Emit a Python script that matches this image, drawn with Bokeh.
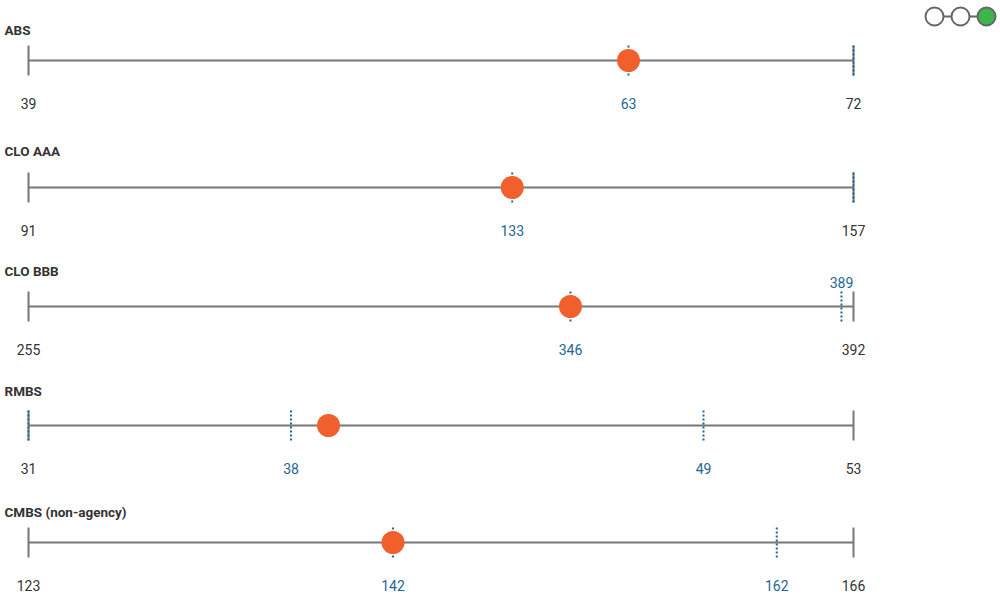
from bokeh.plotting import figure
from bokeh.models import Range1d
from bokeh.layouts import column
from bokeh.core.properties import value
from bokeh.embed import file_html
from bokeh.resources import INLINE

# ---------------- data ----------------
categories = ["ABS", "CLO AAA", "CLO BBB", "RMBS", "CMBS (non-agency)"]
mins = [39, 91, 255, 31, 123]
maxs = [72, 157, 392, 53, 166]
# current value (orange dot), position
current = [63, 129.7, 345, 39.0, 142]
marker_pos = [[63, 72], [129.7, 157], [345, 390], [31, 38, 49], [142, 162]]
marker_labels = [["63", ""], ["133", ""], ["346", "389"], ["", "38", "49"], ["142", "162"]]

# ---------------- style / layout ----------------
W = 1000
X0, X1 = 28, 853          # x of min and max
bounds = [0, 125, 248, 368, 486, 612]   # y boundaries of each row figure
centers = [60, 187, 306, 425, 542]
title_y = [29, 150, 270, 390, 511]
label_dy = 43
TXT = "#333333"
GRAY = "#777777"
BLUE = "#1d6796"
ORANGE = "#f15f2d"
FONT = "Roboto"

figs = []
for i, cat in enumerate(categories):
    top, bot = bounds[i], bounds[i + 1]
    s = (X1 - X0) / (maxs[i] - mins[i])
    start = mins[i] - X0 / s
    end = start + W / s
    p = figure(width=W, height=bot - top, output_backend="svg", toolbar_location=None,
               x_range=Range1d(start, end), y_range=Range1d(bot, top),
               min_border=0, min_border_left=0, min_border_right=0,
               min_border_top=0, min_border_bottom=0)
    p.extra_x_ranges = {"px": Range1d(0, W)}
    p.axis.visible = False
    p.grid.visible = False
    p.outline_line_color = None
    p.background_fill_color = None
    p.border_fill_color = None

    c = centers[i]
    # title
    p.text(x=[4], y=[title_y[i]], text=[cat], x_range_name="px",
           text_font=value(FONT), text_font_size="13.5px", text_font_style="bold",
           text_color=TXT, text_align="left", text_baseline="middle")
    # range line
    p.segment(x0=[mins[i]], y0=[c], x1=[maxs[i]], y1=[c], line_color=GRAY, line_width=2)
    # end ticks
    p.segment(x0=[mins[i], maxs[i]], y0=[c - 15, c - 15], x1=[mins[i], maxs[i]], y1=[c + 15, c + 15],
              line_color=GRAY, line_width=2)
    # dotted markers
    mp = marker_pos[i]
    p.segment(x0=mp, y0=[c - 15] * len(mp), x1=mp, y1=[c + 15] * len(mp),
              line_color=BLUE, line_width=2, line_dash="2 2")
    # current dot
    p.scatter(x=[current[i]], y=[c], size=23, fill_color=ORANGE, line_color=None)
    # min / max labels
    p.text(x=[mins[i], maxs[i]], y=[c + label_dy] * 2, text=[str(mins[i]), str(maxs[i])],
           text_font=value(FONT), text_font_size="14px", text_color=TXT,
           text_align="center", text_baseline="middle")
    # marker labels
    mx, my, mt = [], [], []
    for pos, lab in zip(mp, marker_labels[i]):
        if not lab:
            continue
        mx.append(pos)
        near_end = abs(maxs[i] - pos) * s < 35
        my.append(c - 24 if near_end else c + label_dy)
        mt.append(lab)
    if mx:
        p.text(x=mx, y=my, text=mt, text_font=value(FONT), text_font_size="14px",
               text_color=BLUE, text_align="center", text_baseline="middle")

    if i == 0:
        # step indicator at top right
        lx = [934, 960, 986]
        p.segment(x0=[lx[0]], y0=[16], x1=[lx[-1]], y1=[16], x_range_name="px",
                  line_color="#666666", line_width=2)
        p.scatter(x=lx, y=[16] * 3, size=18, x_range_name="px",
                  fill_color=["white", "white", "#3cb54a"], line_color="#666666", line_width=2)
    figs.append(p)

layout = column(*figs, spacing=0)
open("out.html", "w").write(file_html(layout, INLINE))
